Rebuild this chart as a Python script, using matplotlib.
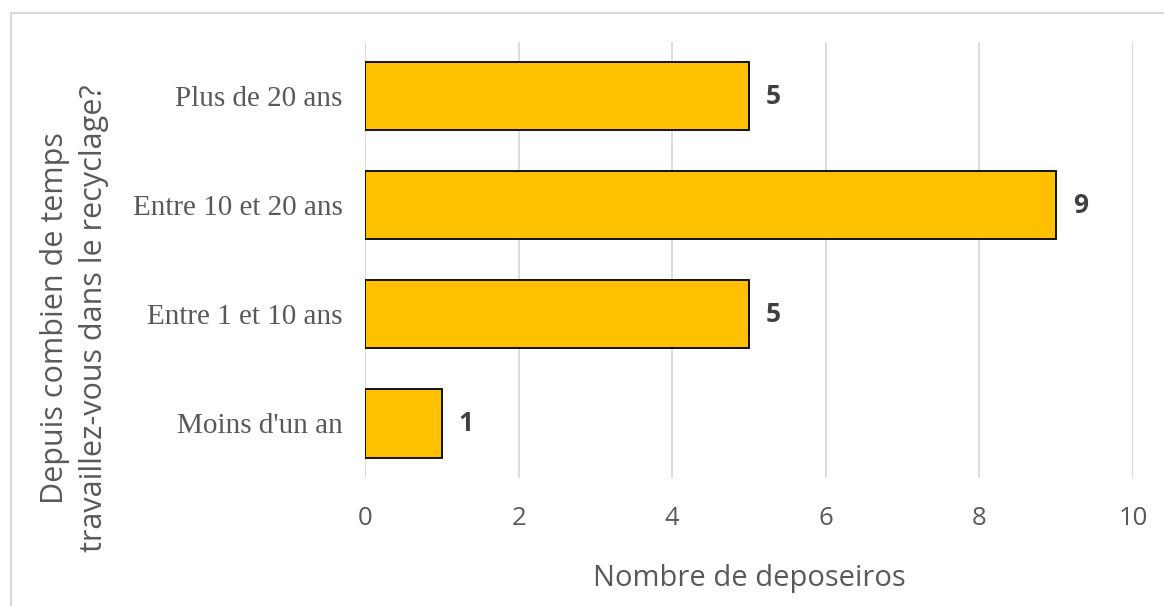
import matplotlib
matplotlib.use('Agg')
import matplotlib.pyplot as plt
from matplotlib.lines import Line2D

categories = ['Moins d\'un an', 'Entre 1 et 10 ans', 'Entre 10 et 20 ans', 'Plus de 20 ans']
counts = [1, 5, 9, 5]
xticks = [0, 2, 4, 6, 8, 10]

text_grey = '#595959'

fig = plt.figure(figsize=(11.64, 6.06), dpi=100)
ax = fig.add_axes([0.3136, 0.2112, 0.6598, 0.7203])

bars = ax.barh(range(len(categories)), counts, height=0.625,
               color='#FFC000', edgecolor='black', linewidth=1.3, zorder=3)

for b, v in zip(bars, counts):
    ax.annotate(str(v), (b.get_width(), b.get_y() + b.get_height() / 2),
                xytext=(12, 0), textcoords='offset points',
                va='center', ha='left', fontsize=19, fontweight='bold',
                color='#404040', family='Open Sans')

ax.set_xlim(0, 10)
ax.set_ylim(-0.5, len(categories) - 0.5)
ax.set_xticks(xticks)
ax.set_xticklabels([str(t) for t in xticks], family='Open Sans',
                   fontsize=18.5, color=text_grey)
ax.set_yticks(range(len(categories)))
ax.set_yticklabels(categories, family='Liberation Serif', fontsize=21,
                   color=text_grey)
ax.tick_params(axis='both', length=0)
ax.tick_params(axis='y', pad=16)
ax.tick_params(axis='x', pad=20)

ax.grid(axis='x', color='#D9D9D9', linewidth=1.3, zorder=0)
for s in ax.spines.values():
    s.set_visible(False)

ax.set_xlabel('Nombre de deposeiros', family='Open Sans', fontsize=21,
              color=text_grey, labelpad=24)
fig.text(0.064, 0.475, 'Depuis combien de temps\ntravaillez-vous dans le recyclage?',
         rotation=90, ha='center', va='center', family='Open Sans',
         fontsize=22, color=text_grey, linespacing=1.4)

# light frame (top and left edges only)
fig.add_artist(Line2D([0.0095, 1.0], [1 - 13 / 606, 1 - 13 / 606],
                      transform=fig.transFigure, color='#D9D9D9', lw=1.5))
fig.add_artist(Line2D([0.0095, 0.0095], [0.0, 1 - 13 / 606],
                      transform=fig.transFigure, color='#D9D9D9', lw=1.5))

fig.savefig('out.png', dpi=100, facecolor='white')
